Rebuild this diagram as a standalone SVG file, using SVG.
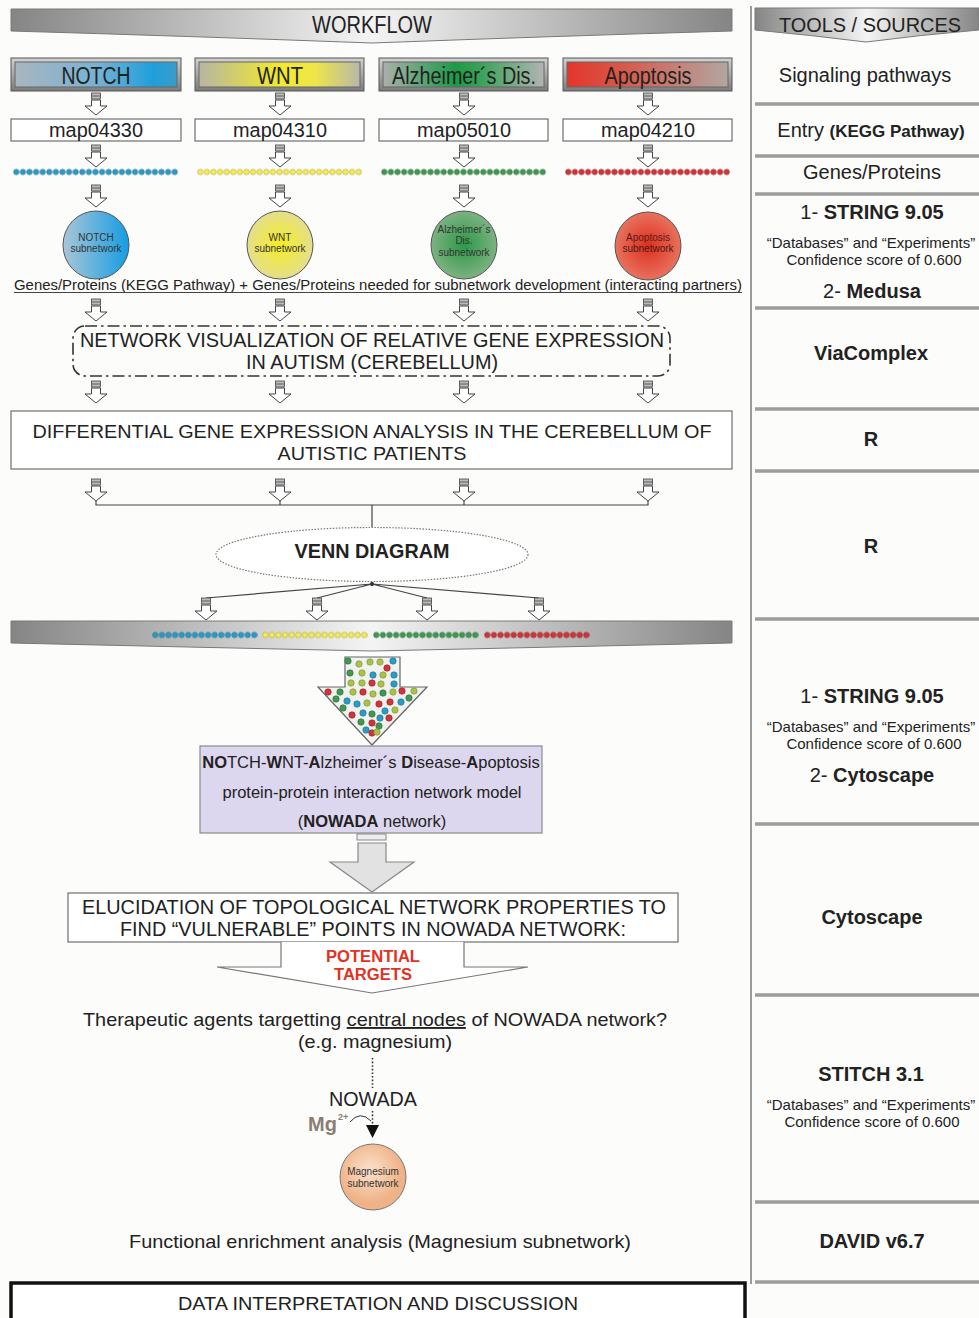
<svg xmlns="http://www.w3.org/2000/svg" xmlns:xlink="http://www.w3.org/1999/xlink" width="979" height="1318" viewBox="0 0 979 1318">
<style>
  .t { font-family: "Liberation Sans", Arial, sans-serif; fill: #222; }
  .c { text-anchor: middle; }
  .b { font-weight: bold; }
  .box { fill: #fff; stroke: #6e6e6e; stroke-width: 1.2; }
  .sep { stroke: #9d9d9d; stroke-width: 3.5; }
  .ln { stroke: #444; stroke-width: 1.2; fill: none; }
  .dB { fill: #2b9cc4; stroke: #1d6f8e; stroke-width: .6; }
  .dY { fill: #f2ec6e; stroke: #b5a300; stroke-width: .6; }
  .dG { fill: #3f9a50; stroke: #2a6a38; stroke-width: .6; }
  .dR { fill: #d2343a; stroke: #8e1f22; stroke-width: .6; }
  .dL { fill: #a9c24a; stroke: #7a9030; stroke-width: .6; }
  .sub { font-size: 10px; fill: #333; }
</style>
<defs>
  <linearGradient id="banner" x1="0" y1="0" x2="1" y2="0">
    <stop offset="0" stop-color="#858585"/>
    <stop offset="0.5" stop-color="#f4f4f4"/>
    <stop offset="1" stop-color="#858585"/>
  </linearGradient>
  <linearGradient id="bevel" x1="0" y1="0" x2="0" y2="1">
    <stop offset="0" stop-color="#d2d2d2"/>
    <stop offset="1" stop-color="#7c7c7c"/>
  </linearGradient>
  <linearGradient id="gNotch" x1="0" y1="0" x2="1" y2="0">
    <stop offset="0" stop-color="#a9b6be"/>
    <stop offset="0.5" stop-color="#78b2d4"/>
    <stop offset="0.85" stop-color="#1ea0dc"/>
    <stop offset="1" stop-color="#3a9cc8"/>
  </linearGradient>
  <linearGradient id="gWnt" x1="0" y1="0" x2="1" y2="0">
    <stop offset="0" stop-color="#b6b6a2"/>
    <stop offset="0.5" stop-color="#f2ea2a"/>
    <stop offset="0.72" stop-color="#eee64a"/>
    <stop offset="1" stop-color="#b8b8a8"/>
  </linearGradient>
  <linearGradient id="gAlz" x1="0" y1="0" x2="1" y2="0">
    <stop offset="0" stop-color="#aab0ac"/>
    <stop offset="0.45" stop-color="#1c9a46"/>
    <stop offset="0.6" stop-color="#38a258"/>
    <stop offset="1" stop-color="#b2b4b2"/>
  </linearGradient>
  <linearGradient id="gApo" x1="0" y1="0" x2="1" y2="0">
    <stop offset="0" stop-color="#e3352a"/>
    <stop offset="0.35" stop-color="#d65a4a"/>
    <stop offset="1" stop-color="#b2a6a2"/>
  </linearGradient>
  <linearGradient id="cNotch" x1="0" y1="0" x2="1" y2="0">
    <stop offset="0" stop-color="#a9c6d8"/>
    <stop offset="1" stop-color="#159de2"/>
  </linearGradient>
  <radialGradient id="cWnt">
    <stop offset="0" stop-color="#f6ee22"/>
    <stop offset="1" stop-color="#e4de8e"/>
  </radialGradient>
  <radialGradient id="cAlz">
    <stop offset="0" stop-color="#2c9848"/>
    <stop offset="1" stop-color="#7db282"/>
  </radialGradient>
  <radialGradient id="cApo">
    <stop offset="0" stop-color="#df2e1e"/>
    <stop offset="1" stop-color="#e7725e"/>
  </radialGradient>
  <radialGradient id="cMg" cx="0.45" cy="0.4">
    <stop offset="0" stop-color="#fbe2cc"/>
    <stop offset="1" stop-color="#efb186"/>
  </radialGradient>
  <pattern id="pB" patternUnits="userSpaceOnUse" width="6.6" height="7"><circle cx="3.3" cy="3.5" r="2.7" class="dB"/></pattern>
  <pattern id="pY" patternUnits="userSpaceOnUse" width="6.6" height="7"><circle cx="3.3" cy="3.5" r="2.7" class="dY"/></pattern>
  <pattern id="pG" patternUnits="userSpaceOnUse" width="6.6" height="7"><circle cx="3.3" cy="3.5" r="2.7" class="dG"/></pattern>
  <pattern id="pR" patternUnits="userSpaceOnUse" width="6.6" height="7"><circle cx="3.3" cy="3.5" r="2.7" class="dR"/></pattern>
  <!-- small hollow down arrow with striped cap, origin at top centre -->
  <g id="da">
    <rect x="-4.5" y="0" width="9" height="6" fill="#bdbdbd" stroke="#444" stroke-width=".8"/>
    <line x1="-4.5" y1="3" x2="4.5" y2="3" stroke="#444" stroke-width=".8"/>
    <path d="M-4.5,7 H4.5 V13 H11 L0,22 L-11,13 H-4.5 Z" fill="#fff" stroke="#444" stroke-width="1"/>
  </g>
</defs>

<rect width="979" height="1318" fill="#fcfcfb"/>

<!-- column divider -->
<line x1="751" y1="6" x2="751" y2="1284" stroke="#9a9a9a" stroke-width="2"/>

<g id="header-workflow">
  <path d="M11,9 H732 V31 Q560,36 372,43 Q184,36 11,31 Z" fill="url(#banner)" stroke="#7a7a7a"/>
  <text class="t c" x="372" y="33" font-size="23" textLength="120" lengthAdjust="spacingAndGlyphs">WORKFLOW</text>
</g>

<g id="header-tools">
  <path d="M755,8 H979 V30 Q920,35 866,42 Q810,35 755,30 Z" fill="url(#banner)" stroke="#7a7a7a"/>
  <text class="t c" x="870" y="32" font-size="20" textLength="182" lengthAdjust="spacingAndGlyphs">TOOLS / SOURCES</text>
</g>

<!-- pathway buttons -->
<g id="btn-notch">
  <rect x="11" y="58" width="170" height="33" fill="url(#bevel)" stroke="#555"/>
  <rect x="15" y="62" width="162" height="25" fill="url(#gNotch)" stroke="#666"/>
  <text class="t c" x="96" y="84" font-size="23" textLength="69" lengthAdjust="spacingAndGlyphs">NOTCH</text>
</g>
<g id="btn-wnt">
  <rect x="195" y="58" width="169" height="33" fill="url(#bevel)" stroke="#555"/>
  <rect x="199" y="62" width="161" height="25" fill="url(#gWnt)" stroke="#666"/>
  <text class="t c" x="280" y="84" font-size="23" textLength="46" lengthAdjust="spacingAndGlyphs">WNT</text>
</g>
<g id="btn-alz">
  <rect x="379" y="58" width="169" height="33" fill="url(#bevel)" stroke="#555"/>
  <rect x="383" y="62" width="161" height="25" fill="url(#gAlz)" stroke="#666"/>
  <text class="t c" x="464" y="84" font-size="23" textLength="144" lengthAdjust="spacingAndGlyphs">Alzheimer´s Dis.</text>
</g>
<g id="btn-apo">
  <rect x="563" y="58" width="169" height="33" fill="url(#bevel)" stroke="#555"/>
  <rect x="567" y="62" width="161" height="25" fill="url(#gApo)" stroke="#666"/>
  <text class="t c" x="648" y="84" font-size="23" textLength="87" lengthAdjust="spacingAndGlyphs">Apoptosis</text>
</g>

<!-- KEGG map entries -->
<g id="map-notch"><rect class="box" x="11" y="119" width="170" height="22"/><text class="t c" x="96" y="137" font-size="20" textLength="94" lengthAdjust="spacingAndGlyphs">map04330</text></g>
<g id="map-wnt"><rect class="box" x="195" y="119" width="169" height="22"/><text class="t c" x="280" y="137" font-size="20" textLength="94" lengthAdjust="spacingAndGlyphs">map04310</text></g>
<g id="map-alz"><rect class="box" x="379" y="119" width="169" height="22"/><text class="t c" x="464" y="137" font-size="20" textLength="94" lengthAdjust="spacingAndGlyphs">map05010</text></g>
<g id="map-apo"><rect class="box" x="563" y="119" width="169" height="22"/><text class="t c" x="648" y="137" font-size="20" textLength="94" lengthAdjust="spacingAndGlyphs">map04210</text></g>

<!-- gene lists -->
<g id="genes-notch" transform="translate(13,168.5)"><rect width="165" height="7" fill="url(#pB)"/></g>
<g id="genes-wnt" transform="translate(197,168.5)"><rect width="165" height="7" fill="url(#pY)"/></g>
<g id="genes-alz" transform="translate(381,168.5)"><rect width="165" height="7" fill="url(#pG)"/></g>
<g id="genes-apo" transform="translate(565,168.5)"><rect width="165" height="7" fill="url(#pR)"/></g>

<!-- subnetworks -->
<g id="sub-notch">
  <ellipse cx="96" cy="245" rx="33" ry="34" fill="url(#cNotch)" stroke="#555"/>
  <text class="t c sub" x="96" y="241">NOTCH</text>
  <text class="t c sub" x="96" y="252">subnetwork</text>
</g>
<g id="sub-wnt">
  <ellipse cx="280" cy="245" rx="33" ry="34" fill="url(#cWnt)" stroke="#555"/>
  <text class="t c sub" x="280" y="241">WNT</text>
  <text class="t c sub" x="280" y="252">subnetwork</text>
</g>
<g id="sub-alz">
  <ellipse cx="464" cy="245" rx="33" ry="34" fill="url(#cAlz)" stroke="#555"/>
  <text class="t c sub" x="464" y="233">Alzheimer´s</text>
  <text class="t c sub" x="464" y="244">Dis.</text>
  <text class="t c sub" x="464" y="256">subnetwork</text>
</g>
<g id="sub-apo">
  <ellipse cx="648" cy="246" rx="33" ry="34" fill="url(#cApo)" stroke="#555"/>
  <text class="t c sub" x="648" y="241" style="fill:#5a1a14">Apoptosis</text>
  <text class="t c sub" x="648" y="252" style="fill:#4a1a14">subnetwork</text>
</g>

<g id="genes-note">
  <text class="t c" x="378" y="290" font-size="15" textLength="728" lengthAdjust="spacingAndGlyphs">Genes/Proteins (KEGG Pathway) + Genes/Proteins needed for subnetwork development (interacting partners)</text>
  <line x1="14" y1="292.5" x2="742" y2="292.5" stroke="#444" stroke-width="1"/>
</g>

<g id="network-visualization">
  <rect x="73" y="326" width="597" height="50" rx="12" fill="none" stroke="#333" stroke-width="1.6" stroke-dasharray="12 4 2.5 4"/>
  <text class="t c" x="372" y="347" font-size="20" textLength="584" lengthAdjust="spacingAndGlyphs">NETWORK VISUALIZATION OF RELATIVE GENE EXPRESSION</text>
  <text class="t c" x="372" y="369" font-size="20" textLength="252" lengthAdjust="spacingAndGlyphs">IN AUTISM (CEREBELLUM)</text>
</g>

<g id="differential-expression">
  <rect class="box" x="11" y="411" width="721" height="58"/>
  <text class="t c" x="372" y="438" font-size="19" textLength="679" lengthAdjust="spacingAndGlyphs">DIFFERENTIAL GENE EXPRESSION ANALYSIS IN THE CEREBELLUM OF</text>
  <text class="t c" x="372" y="460" font-size="19" textLength="189" lengthAdjust="spacingAndGlyphs">AUTISTIC PATIENTS</text>
</g>

<g id="venn">
  <ellipse cx="372" cy="554.5" rx="156" ry="27" fill="#fff" stroke="#777" stroke-width="1.2" stroke-dasharray="1.5 1.5"/>
  <text class="t c b" x="372" y="558" font-size="20" textLength="155" lengthAdjust="spacingAndGlyphs">VENN DIAGRAM</text>
</g>

<g id="shared-genes">
  <path d="M11,621 H732 V643 Q560,647 372,651 Q184,647 11,643 Z" fill="url(#banner)" stroke="#7a7a7a"/>
  <g transform="translate(152,631.5)"><rect width="106" height="7" fill="url(#pB)"/></g>
  <g transform="translate(262,631.5)"><rect width="106" height="7" fill="url(#pY)"/></g>
  <g transform="translate(373,631.5)"><rect width="106" height="7" fill="url(#pG)"/></g>
  <g transform="translate(484,631.5)"><rect width="106" height="7" fill="url(#pR)"/></g>
</g>

<!-- merge arrow holding the pooled genes -->
<g id="merge-arrow">
  <path d="M345,657 H400 V687 H427 L372,745 L318,687 H345 Z" fill="#f1f1ef" stroke="#666" stroke-width="1.2"/>
  <circle class="dG" cx="348" cy="661" r="3.2"/><circle class="dL" cx="359" cy="664" r="3.2"/><circle class="dL" cx="370" cy="662" r="3.2"/><circle class="dL" cx="380" cy="662" r="3.2"/><circle class="dB" cx="393" cy="661" r="3.2"/>
  <circle class="dR" cx="387" cy="668" r="3.2"/>
  <circle class="dG" cx="350" cy="673" r="3.2"/><circle class="dL" cx="362" cy="673" r="3.2"/><circle class="dB" cx="373" cy="675" r="3.2"/><circle class="dL" cx="383" cy="675" r="3.2"/><circle class="dB" cx="394" cy="675" r="3.2"/>
  <circle class="dL" cx="351" cy="683" r="3.2"/><circle class="dL" cx="362" cy="683" r="3.2"/><circle class="dR" cx="372" cy="683" r="3.2"/><circle class="dL" cx="381" cy="684" r="3.2"/><circle class="dB" cx="394" cy="684" r="3.2"/>
  <circle class="dR" cx="328" cy="692" r="3.2"/><circle class="dG" cx="340" cy="692" r="3.2"/><circle class="dL" cx="353" cy="692" r="3.2"/><circle class="dR" cx="363" cy="692" r="3.2"/><circle class="dL" cx="373" cy="694" r="3.2"/><circle class="dG" cx="383" cy="693" r="3.2"/><circle class="dL" cx="393" cy="692" r="3.2"/><circle class="dR" cx="402" cy="691" r="3.2"/><circle class="dL" cx="414" cy="691" r="3.2"/>
  <circle class="dG" cx="336" cy="699" r="3.2"/><circle class="dB" cx="347" cy="701" r="3.2"/><circle class="dB" cx="357" cy="704" r="3.2"/><circle class="dL" cx="367" cy="703" r="3.2"/><circle class="dR" cx="379" cy="704" r="3.2"/><circle class="dR" cx="390" cy="702" r="3.2"/><circle class="dB" cx="401" cy="702" r="3.2"/><circle class="dG" cx="409" cy="698" r="3.2"/>
  <circle class="dG" cx="343" cy="708" r="3.2"/><circle class="dR" cx="352" cy="715" r="3.2"/><circle class="dB" cx="363" cy="713" r="3.2"/><circle class="dG" cx="372" cy="714" r="3.2"/><circle class="dB" cx="385" cy="711" r="3.2"/><circle class="dL" cx="395" cy="710" r="3.2"/>
  <circle class="dG" cx="361" cy="722" r="3.2"/><circle class="dR" cx="372" cy="723" r="3.2"/><circle class="dB" cx="380" cy="718" r="3.2"/><circle class="dR" cx="389" cy="718" r="3.2"/>
  <circle class="dG" cx="379" cy="726" r="3.2"/><circle class="dB" cx="366" cy="730" r="3.2"/><circle class="dR" cx="372" cy="733" r="3.2"/><circle class="dL" cx="377" cy="732" r="3.2"/>
</g>

<g id="nowada-model">
  <rect x="200" y="746" width="342" height="87" fill="#ddd6ef" stroke="#8a8a8a" stroke-width="1.2"/>
  <text class="t c" x="371" y="768" font-size="16.5"><tspan class="b">NO</tspan>TCH-<tspan class="b">W</tspan>NT-<tspan class="b">A</tspan>lzheimer´s <tspan class="b">D</tspan>isease-<tspan class="b">A</tspan>poptosis</text>
  <text class="t c" x="372" y="798" font-size="16.5">protein-protein interaction network model</text>
  <text class="t c" x="372" y="827" font-size="16.5">(<tspan class="b">NOWADA</tspan> network)</text>
</g>

<g id="topology-arrow">
  <rect x="357" y="834" width="29" height="6" fill="#eee" stroke="#888"/>
  <path d="M358,843 H386 V862 H414 L372,892 L330,862 H358 Z" fill="#e2e2e2" stroke="#888" stroke-width="1.2"/>
</g>

<g id="topology">
  <rect class="box" x="68" y="893" width="610" height="49"/>
  <text class="t c" x="374" y="914" font-size="19.5" textLength="584" lengthAdjust="spacingAndGlyphs">ELUCIDATION OF TOPOLOGICAL NETWORK PROPERTIES TO</text>
  <text class="t c" x="373" y="936" font-size="19.5" textLength="506" lengthAdjust="spacingAndGlyphs">FIND “VULNERABLE” POINTS IN NOWADA NETWORK:</text>
</g>

<g id="potential-targets">
  <path d="M281,942 V967 H217 L372,993 L528,967 H464 V942" fill="#fff" stroke="#777" stroke-width="1.2"/>
  <text class="t c b" x="373" y="962" font-size="16" style="fill:#e2321f" textLength="94" lengthAdjust="spacingAndGlyphs">POTENTIAL</text>
  <text class="t c b" x="373" y="980" font-size="16" style="fill:#e2321f" textLength="78" lengthAdjust="spacingAndGlyphs">TARGETS</text>
</g>

<g id="therapeutic-question">
  <text class="t c" x="375" y="1026" font-size="19" textLength="584" lengthAdjust="spacingAndGlyphs">Therapeutic agents targetting <tspan text-decoration="underline">central nodes</tspan> of NOWADA network?</text>
  <text class="t c" x="375" y="1048" font-size="19" textLength="154" lengthAdjust="spacingAndGlyphs">(e.g. magnesium)</text>
</g>

<g id="nowada-label">
  <text class="t c" x="373" y="1106" font-size="19.5" textLength="88" lengthAdjust="spacingAndGlyphs">NOWADA</text>
</g>

<g id="mg-label">
  <text class="t b" x="308" y="1131" font-size="20" style="fill:#8b7d72">Mg</text>
  <text class="t b" x="338" y="1120" font-size="9" style="fill:#8b7d72">2+</text>
</g>

<g id="magnesium-subnetwork">
  <circle cx="373" cy="1177" r="33" fill="url(#cMg)" stroke="#777"/>
  <text class="t c sub" x="373" y="1175">Magnesium</text>
  <text class="t c sub" x="373" y="1187">subnetwork</text>
</g>

<g id="enrichment">
  <text class="t c" x="380" y="1248" font-size="19" textLength="502" lengthAdjust="spacingAndGlyphs">Functional enrichment analysis (Magnesium subnetwork)</text>
</g>

<g id="interpretation">
  <rect x="11" y="1283" width="734" height="45" fill="#fff" stroke="#111" stroke-width="3.5"/>
  <text class="t c" x="378" y="1310" font-size="19" textLength="400" lengthAdjust="spacingAndGlyphs">DATA INTERPRETATION AND DISCUSSION</text>
</g>

<!-- connectors -->
<g id="connectors">
  <use xlink:href="#da" x="96" y="93"/><use xlink:href="#da" x="280" y="93"/><use xlink:href="#da" x="464" y="93"/><use xlink:href="#da" x="648" y="93"/>
  <use xlink:href="#da" x="96" y="145"/><use xlink:href="#da" x="280" y="145"/><use xlink:href="#da" x="464" y="145"/><use xlink:href="#da" x="648" y="145"/>
  <use xlink:href="#da" x="96" y="185"/><use xlink:href="#da" x="280" y="185"/><use xlink:href="#da" x="464" y="185"/><use xlink:href="#da" x="648" y="185"/>
  <use xlink:href="#da" x="96" y="299"/><use xlink:href="#da" x="280" y="299"/><use xlink:href="#da" x="464" y="299"/><use xlink:href="#da" x="648" y="299"/>
  <use xlink:href="#da" x="96" y="381"/><use xlink:href="#da" x="280" y="381"/><use xlink:href="#da" x="464" y="381"/><use xlink:href="#da" x="648" y="381"/>
  <use xlink:href="#da" x="96" y="479"/><use xlink:href="#da" x="280" y="479"/><use xlink:href="#da" x="464" y="479"/><use xlink:href="#da" x="648" y="479"/>
  <path class="ln" d="M96,501 V505 H648 V501 M280,501 V505 M464,501 V505 M372,505 V527"/>
  <circle cx="372" cy="584" r="2" fill="#111"/>
  <path class="ln" d="M372,584 L206,598 M372,584 L317,598 M372,584 L427,598 M372,584 L539,598"/>
  <use xlink:href="#da" x="206" y="598"/><use xlink:href="#da" x="317" y="598"/><use xlink:href="#da" x="427" y="598"/><use xlink:href="#da" x="539" y="598"/>
  <!-- magnesium targeting arrow -->
  <path d="M372.5,1058 V1088 M372.5,1111 V1126" stroke="#333" stroke-width="1.6" stroke-dasharray="1.6 2" fill="none"/>
  <path d="M366,1125 L379,1125 L372.5,1138 Z" fill="#111"/>
  <path d="M350,1122 Q360,1110 371,1121" stroke="#333" stroke-width="1" fill="none"/>
</g>

<!-- tools / sources column -->
<g id="tools">
  <line class="sep" x1="755" y1="104" x2="979" y2="104"/>
  <line class="sep" x1="755" y1="156" x2="979" y2="156"/>
  <line class="sep" x1="755" y1="194" x2="979" y2="194"/>
  <line class="sep" x1="755" y1="308" x2="979" y2="308"/>
  <line class="sep" x1="755" y1="409" x2="979" y2="409"/>
  <line class="sep" x1="755" y1="471" x2="979" y2="471"/>
  <line class="sep" x1="755" y1="619" x2="979" y2="619"/>
  <line class="sep" x1="755" y1="824" x2="979" y2="824"/>
  <line class="sep" x1="755" y1="995" x2="979" y2="995"/>
  <line class="sep" x1="755" y1="1202" x2="979" y2="1202"/>
  <line class="sep" x1="755" y1="1282" x2="979" y2="1282"/>
</g>
<g id="tool-pathways"><text class="t c" x="865" y="82" font-size="20">Signaling pathways</text></g>
<g id="tool-entry"><text class="t c" x="871" y="137" font-size="20">Entry <tspan class="b" font-size="17">(KEGG Pathway)</tspan></text></g>
<g id="tool-genes"><text class="t c" x="872" y="179" font-size="20">Genes/Proteins</text></g>
<g id="tool-string-medusa">
  <text class="t c" x="872" y="219" font-size="20">1- <tspan class="b">STRING 9.05</tspan></text>
  <text class="t c" x="871" y="248" font-size="15">“Databases” and “Experiments”</text>
  <text class="t c" x="874" y="265" font-size="15">Confidence score of 0.600</text>
  <text class="t c" x="872" y="298" font-size="20">2- <tspan class="b">Medusa</tspan></text>
</g>
<g id="tool-viacomplex"><text class="t c b" x="871" y="360" font-size="20">ViaComplex</text></g>
<g id="tool-r1"><text class="t c b" x="871" y="446" font-size="20">R</text></g>
<g id="tool-r2"><text class="t c b" x="871" y="553" font-size="20">R</text></g>
<g id="tool-string-cytoscape">
  <text class="t c" x="872" y="703" font-size="20">1- <tspan class="b">STRING 9.05</tspan></text>
  <text class="t c" x="871" y="732" font-size="15">“Databases” and “Experiments”</text>
  <text class="t c" x="874" y="749" font-size="15">Confidence score of 0.600</text>
  <text class="t c" x="872" y="782" font-size="20">2- <tspan class="b">Cytoscape</tspan></text>
</g>
<g id="tool-cytoscape"><text class="t c b" x="872" y="924" font-size="20">Cytoscape</text></g>
<g id="tool-stitch">
  <text class="t c b" x="871" y="1081" font-size="20">STITCH 3.1</text>
  <text class="t c" x="871" y="1110" font-size="15">“Databases” and “Experiments”</text>
  <text class="t c" x="872" y="1127" font-size="15">Confidence score of 0.600</text>
</g>
<g id="tool-david"><text class="t c b" x="872" y="1248" font-size="20">DAVID v6.7</text></g>
</svg>
